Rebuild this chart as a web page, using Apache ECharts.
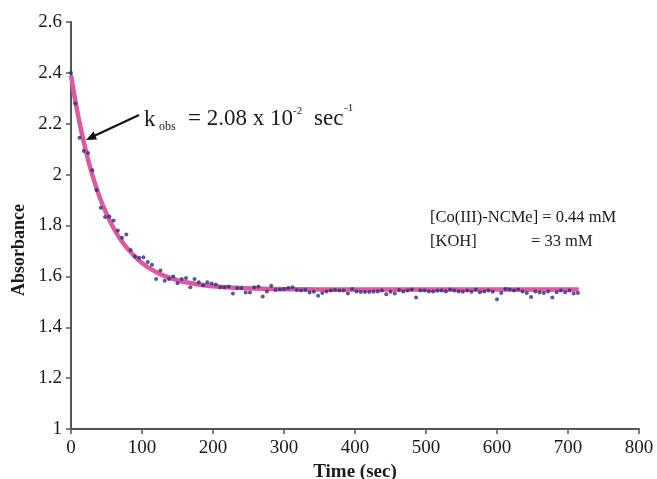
<!DOCTYPE html>
<html>
<head>
    <meta charset="utf-8"/>
    <title>Absorbance vs time</title>
    <script src="https://cdn.jsdelivr.net/npm/echarts@6/dist/echarts.min.js"></script>
    <style>
        html, body { margin: 0; padding: 0; background: #fff; }
        #chart { width: 657px; height: 479px; }
    </style>
</head>
<body>
<div id="chart"></div>
<script type="text/javascript">
    // measured points, one every 6 s (0 .. 714 s)
    var timeStep = 6;
    var absorbance = [
        2.40, 2.28, 2.145, 2.093, 2.085, 2.017, 1.94, 1.87, 1.833, 1.835,
        1.82, 1.78, 1.752, 1.765, 1.704, 1.678, 1.673, 1.675, 1.657, 1.646,
        1.59, 1.623, 1.583, 1.59, 1.60, 1.573, 1.59, 1.594, 1.557, 1.59,
        1.577, 1.565, 1.577, 1.572, 1.568, 1.557, 1.557, 1.560, 1.533, 1.554,
        1.554, 1.537, 1.537, 1.557, 1.560, 1.521, 1.541, 1.563, 1.546, 1.548,
        1.550, 1.554, 1.557, 1.546, 1.544, 1.546, 1.537, 1.540, 1.524, 1.535,
        1.541, 1.544, 1.546, 1.544, 1.544, 1.533, 1.550, 1.541, 1.539, 1.539,
        1.539, 1.540, 1.541, 1.544, 1.530, 1.540, 1.533, 1.546, 1.541, 1.544,
        1.548, 1.517, 1.544, 1.544, 1.541, 1.541, 1.543, 1.544, 1.541, 1.548,
        1.544, 1.541, 1.540, 1.544, 1.540, 1.548, 1.538, 1.541, 1.544, 1.540,
        1.510, 1.535, 1.550, 1.548, 1.544, 1.548, 1.541, 1.535, 1.519, 1.541,
        1.537, 1.535, 1.541, 1.517, 1.538, 1.544, 1.538, 1.544, 1.533, 1.535
    ];

    // first-order fit curve
    var fitTime = [0, 10, 20, 30, 40, 50, 60, 70, 80, 90, 100, 110, 120, 130, 140, 150,
        160, 170, 180, 190, 200, 220, 240, 260, 280, 300, 350, 400, 500, 600, 715];
    var fitValue = [2.390, 2.232, 2.104, 1.999, 1.914, 1.846, 1.790, 1.744, 1.708, 1.678,
        1.653, 1.633, 1.617, 1.604, 1.594, 1.585, 1.578, 1.573, 1.568, 1.564, 1.561,
        1.557, 1.554, 1.552, 1.5505, 1.5496, 1.5485, 1.548, 1.548, 1.548, 1.548];

    var xMin = 0, xMax = 800, xStep = 100;
    var yMin = 1, yMax = 2.6, yStep = 0.2;

    var serif = '"Liberation Serif", "DejaVu Serif", serif';
    var ink = '#1a1a1a';
    var axisGray = '#5a5555';

    var points = absorbance.map(function (v, i) {
        return [i * timeStep, v];
    });
    var fitLine = fitTime.map(function (t, i) {
        return [t, fitValue[i]];
    });

    var myChart = echarts.init(document.getElementById('chart'));

    var option = {
        animation: false,
        backgroundColor: '#fff',
        grid: { left: 71, right: 18, top: 22, bottom: 50, outerBoundsMode: 'none', containLabel: false },
        xAxis: {
            type: 'value',
            min: xMin, max: xMax, interval: xStep,
            name: 'Time (sec)',
            nameLocation: 'middle',
            nameGap: 33,
            nameTextStyle: { fontFamily: serif, fontWeight: 'bold', fontSize: 19, color: ink },
            axisLine: { lineStyle: { color: axisGray, width: 2 } },
            axisTick: { lineStyle: { color: axisGray, width: 1.5 }, length: 5 },
            axisLabel: { fontFamily: serif, fontSize: 19, color: ink, margin: 10 },
            splitLine: { show: false }
        },
        yAxis: {
            type: 'value',
            min: yMin, max: yMax, interval: yStep,
            axisLine: { show: true, lineStyle: { color: axisGray, width: 2 } },
            axisTick: { show: true, lineStyle: { color: axisGray, width: 1.5 }, length: 5 },
            axisLabel: {
                fontFamily: serif, fontSize: 19, color: ink, margin: 9,
                formatter: function (v) { return String(+v.toFixed(1)); }
            },
            splitLine: { show: false }
        },
        series: [
            {
                name: 'fit',
                type: 'line',
                data: fitLine,
                smooth: true,
                showSymbol: false,
                lineStyle: { color: '#dc5a9e', width: 4.5 },
                z: 2
            },
            {
                name: 'data',
                type: 'scatter',
                data: points,
                symbol: 'circle',
                symbolSize: 4,
                itemStyle: { color: '#2b2e82' },
                z: 3
            }
        ],
        graphic: [
            // y axis title
            { type: 'text', x: 19, y: 250, rotation: Math.PI / 2,
              style: { text: 'Absorbance', font: 'bold 18px ' + serif, fill: ink,
                       align: 'center', verticalAlign: 'middle' } },
            // arrow pointing at the curve
            { type: 'line', shape: { x1: 139, y1: 115, x2: 94, y2: 136 },
              style: { stroke: '#111', lineWidth: 2 } },
            { type: 'polygon', shape: { points: [[86, 140], [97, 139.5], [93.5, 131.5]] },
              style: { fill: '#111' } },
            // k_obs label
            { type: 'text', left: 144, top: 108,
              style: { text: 'k', font: '23px ' + serif, fill: ink } },
            { type: 'text', left: 159, top: 121,
              style: { text: 'obs', font: '12px ' + serif, fill: ink } },
            { type: 'text', left: 188, top: 107,
              style: { text: '= 2.08 x 10', font: '23px ' + serif, fill: ink } },
            { type: 'text', left: 293, top: 106,
              style: { text: '-2', font: '11px ' + serif, fill: ink } },
            { type: 'text', left: 314, top: 107,
              style: { text: 'sec', font: '23px ' + serif, fill: ink } },
            { type: 'text', left: 344, top: 103,
              style: { text: '-1', font: '11px ' + serif, fill: ink } },
            // conditions
            { type: 'text', left: 430, top: 209,
              style: { text: '[Co(III)-NCMe] = 0.44 mM', font: '16.5px ' + serif, fill: ink } },
            { type: 'text', left: 430, top: 233,
              style: { text: '[KOH]', font: '16.5px ' + serif, fill: ink } },
            { type: 'text', left: 531, top: 233,
              style: { text: '= 33 mM', font: '16.5px ' + serif, fill: ink } }
        ]
    };
    myChart.setOption(option);
</script>
</body>
</html>
